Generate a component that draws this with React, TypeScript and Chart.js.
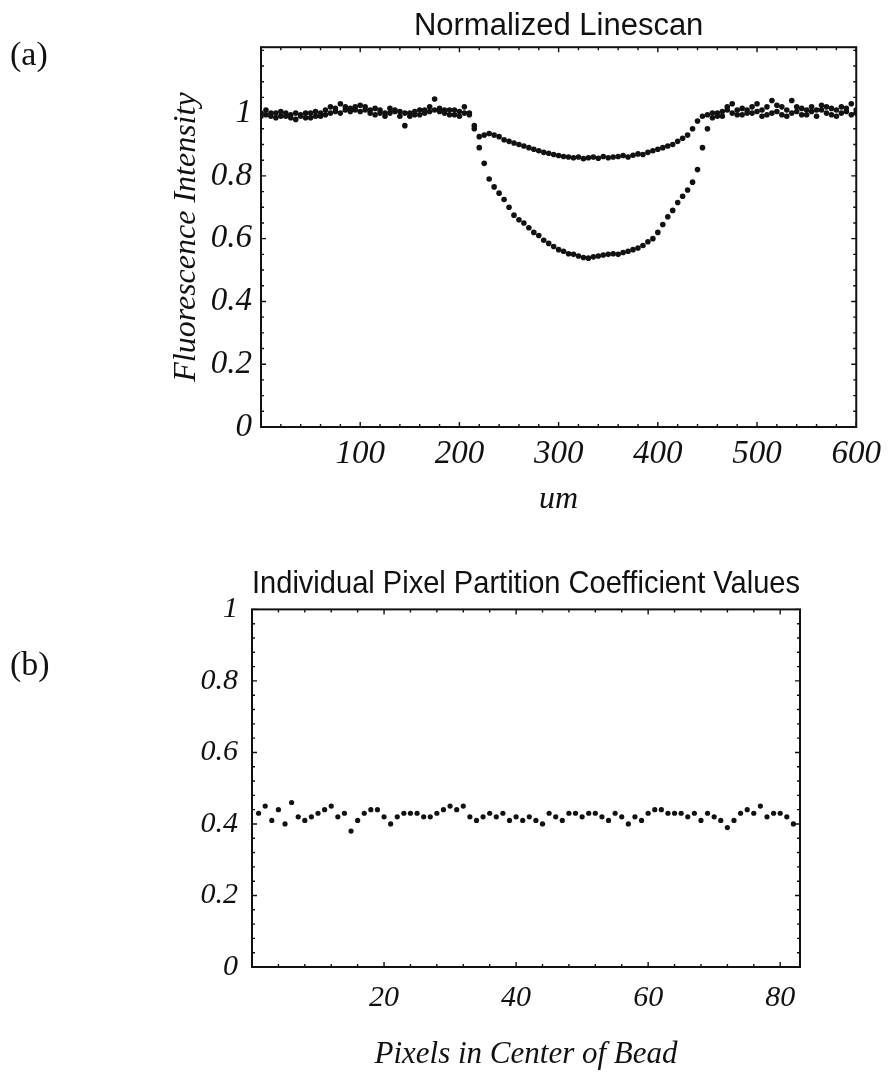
import React, { useEffect, useRef } from "react";
import { Chart, registerables } from "chart.js";

Chart.register(...registerables);

// ---------- (a) Normalized Linescan ----------
const LINESCAN_TITLE = "Normalized Linescan";
const LINESCAN_X_LABEL = "um";
const LINESCAN_Y_LABEL = "Fluorescence Intensity";
const LINESCAN_X = [
  0, 5, 10, 15, 20, 25, 30, 35, 40, 45, 50, 55, 60, 65, 70, 75, 80, 85, 90, 95, 100,
  105, 110, 115, 120, 125, 130, 135, 140, 145, 150, 155, 160, 165, 170, 175, 180, 185, 190, 195, 200,
  205, 210, 215, 220, 225, 230, 235, 240, 245, 250, 255, 260, 265, 270, 275, 280, 285, 290, 295, 300,
  305, 310, 315, 320, 325, 330, 335, 340, 345, 350, 355, 360, 365, 370, 375, 380, 385, 390, 395, 400,
  405, 410, 415, 420, 425, 430, 435, 440, 445, 450, 455, 460, 465, 470, 475, 480, 485, 490, 495, 500,
  505, 510, 515, 520, 525, 530, 535, 540, 545, 550, 555, 560, 565, 570, 575, 580, 585, 590, 595, 600,
];
const LINESCAN_UPPER = [
  1.0, 1.01, 0.99, 1.0, 1.005, 0.99, 0.985, 1.0, 0.99, 1.0, 0.985,
  1.005, 0.99, 1.01, 1.02, 1.005, 1.03, 1.01, 1.015, 1.02, 1.005,
  1.02, 1.01, 0.995, 1.01, 1.0, 1.015, 1.005, 0.99, 0.96, 1.0,
  0.995, 1.01, 1.0, 1.02, 1.045, 1.015, 1.0, 1.01, 0.995, 1.005,
  1.02, 1.0, 0.96, 0.925, 0.93, 0.935, 0.93, 0.925, 0.915, 0.91,
  0.905, 0.9, 0.895, 0.89, 0.885, 0.88, 0.875, 0.872, 0.868, 0.865,
  0.862, 0.86, 0.858, 0.86, 0.855, 0.858, 0.86, 0.856, 0.862, 0.858,
  0.86, 0.862, 0.865, 0.86, 0.866, 0.87, 0.868, 0.875, 0.88, 0.885,
  0.89, 0.895, 0.9, 0.91, 0.92, 0.93, 0.95, 0.975, 0.99, 0.995,
  1.0, 0.99, 1.005, 1.02, 1.0, 1.01, 0.995, 1.01, 1.0, 1.03,
  1.01, 0.995, 1.04, 1.005, 1.02, 0.99, 1.04, 1.005, 1.015, 0.995,
  1.02, 1.01, 1.025, 1.0, 1.015, 0.99, 1.02, 1.005, 1.03, 1.01,
];
const LINESCAN_LOWER = [
  0.99, 0.995, 1.0, 0.985, 0.99, 1.0, 0.995, 0.98, 0.995, 0.985, 1.0,
  0.99, 1.0, 0.995, 1.0, 1.015, 1.0, 1.02, 1.005, 1.01, 1.025,
  1.01, 1.0, 1.015, 1.0, 0.99, 1.0, 1.01, 1.005, 1.0, 0.99,
  1.005, 0.995, 1.01, 1.005, 1.01, 1.005, 1.01, 0.995, 1.01, 0.99,
  1.0, 0.995, 0.95, 0.89, 0.84, 0.79, 0.765, 0.745, 0.725, 0.7,
  0.675, 0.66, 0.65, 0.635, 0.62, 0.61, 0.595, 0.585, 0.575, 0.565,
  0.56, 0.552, 0.55, 0.545, 0.54, 0.538, 0.542, 0.545, 0.548, 0.55,
  0.552, 0.55, 0.556, 0.56, 0.565, 0.57, 0.578, 0.59, 0.6, 0.62,
  0.645, 0.67, 0.69, 0.715, 0.735, 0.755, 0.78, 0.82, 0.89, 0.95,
  0.985, 1.0, 0.99, 1.01, 1.03, 0.995, 1.015, 1.0, 1.02, 1.005,
  0.99, 1.02, 1.0, 1.025, 0.995, 1.01, 1.0, 1.02, 0.995, 1.01,
  1.005, 0.99, 1.01, 1.02, 0.995, 1.01, 1.0, 1.015, 0.995, 1.0,
];
const LINESCAN_X_TICKS = [100, 200, 300, 400, 500, 600];
const LINESCAN_Y_TICKS = [0, 0.2, 0.4, 0.6, 0.8, 1];

// ---------- (b) Individual Pixel Partition Coefficient Values ----------
const PIXEL_TITLE = "Individual Pixel Partition Coefficient Values";
const PIXEL_X_LABEL = "Pixels in Center of Bead";
const PIXEL_INDEX = [
  1, 2, 3, 4, 5, 6, 7, 8, 9, 10, 11, 12, 13, 14, 15, 16, 17, 18, 19, 20,
  21, 22, 23, 24, 25, 26, 27, 28, 29, 30, 31, 32, 33, 34, 35, 36, 37, 38, 39, 40,
  41, 42, 43, 44, 45, 46, 47, 48, 49, 50, 51, 52, 53, 54, 55, 56, 57, 58, 59, 60,
  61, 62, 63, 64, 65, 66, 67, 68, 69, 70, 71, 72, 73, 74, 75, 76, 77, 78, 79, 80,
  81, 82,
];
const PIXEL_VALUES = [
  0.43, 0.45, 0.41, 0.44, 0.4, 0.46, 0.42, 0.41, 0.42, 0.43,
  0.44, 0.45, 0.42, 0.43, 0.38, 0.41, 0.43, 0.44, 0.44, 0.42,
  0.4, 0.42, 0.43, 0.43, 0.43, 0.42, 0.42, 0.43, 0.44, 0.45,
  0.44, 0.45, 0.42, 0.41, 0.42, 0.43, 0.42, 0.43, 0.41, 0.42,
  0.41, 0.42, 0.41, 0.4, 0.43, 0.42, 0.41, 0.43, 0.43, 0.42,
  0.43, 0.43, 0.42, 0.41, 0.43, 0.42, 0.4, 0.42, 0.41, 0.43,
  0.44, 0.44, 0.43, 0.43, 0.43, 0.42, 0.43, 0.41, 0.43, 0.42,
  0.41, 0.39, 0.41, 0.43, 0.44, 0.43, 0.45, 0.42, 0.43, 0.43,
  0.42, 0.4,
];
const PIXEL_X_TICKS = [20, 40, 60, 80];
const PIXEL_Y_TICKS = [0, 0.2, 0.4, 0.6, 0.8, 1];

const INK = "#111111";
const SERIF = '"Liberation Serif", "DejaVu Serif", "Times New Roman", serif';
const SANS = '"Liberation Sans", Arial, Helvetica, sans-serif';

// Frame with inward major/minor ticks on all four sides (positions from the chart's scales)
const frameTicksPlugin = {
  id: "frameTicks",
  afterDatasetsDraw(chart: any, _args: any, opts: any) {
    const { ctx, chartArea } = chart;
    const xs = chart.scales.x;
    const ys = chart.scales.y;
    const { left, right, top, bottom } = chartArea;
    ctx.save();
    ctx.strokeStyle = INK;
    ctx.lineWidth = 1.4;
    ctx.beginPath();
    const vTick = (v: number, len: number) => {
      const p = xs.getPixelForValue(v);
      ctx.moveTo(p, bottom);
      ctx.lineTo(p, bottom - len);
      ctx.moveTo(p, top);
      ctx.lineTo(p, top + len);
    };
    const hTick = (v: number, len: number) => {
      const p = ys.getPixelForValue(v);
      ctx.moveTo(left, p);
      ctx.lineTo(left + len, p);
      ctx.moveTo(right, p);
      ctx.lineTo(right - len, p);
    };
    for (let i = 1; ; i++) {
      const v = xs.min + i * opts.xMinorStep;
      if (v >= xs.max - 1e-9) break;
      vTick(v, opts.minorLen);
    }
    for (let i = 1; ; i++) {
      const v = ys.min + i * opts.yMinorStep;
      if (v >= ys.max - 1e-9) break;
      hTick(v, opts.minorLen);
    }
    opts.xMajor.forEach((v: number) => vTick(v, opts.majorLen));
    opts.yMajor.forEach((v: number) => hTick(v, opts.majorLen));
    ctx.stroke();
    ctx.lineWidth = 2;
    ctx.strokeRect(left, top, right - left, bottom - top);
    ctx.restore();
  },
};

function LinescanChart() {
  const ref = useRef<HTMLCanvasElement | null>(null);
  useEffect(() => {
    if (!ref.current) return;
    const upper = LINESCAN_X.map((x, i) => ({ x, y: LINESCAN_UPPER[i] }));
    const lower = LINESCAN_X.map((x, i) => ({ x, y: LINESCAN_LOWER[i] }));
    const tickFont = { family: SERIF, style: "italic" as const, size: 33 };
    const chart = new Chart(ref.current, {
      type: "scatter",
      data: {
        datasets: [
          { data: upper, pointRadius: 2.8, pointBackgroundColor: INK, pointBorderWidth: 0, showLine: false },
          { data: lower, pointRadius: 2.8, pointBackgroundColor: INK, pointBorderWidth: 0, showLine: false },
        ],
      },
      options: {
        responsive: false,
        animation: false,
        layout: { padding: { left: 150, right: 28, top: 0, bottom: 0 } },
        plugins: {
          legend: { display: false },
          tooltip: { enabled: false },
          title: {
            display: true,
            text: LINESCAN_TITLE,
            fullSize: false,
            color: INK,
            font: { family: SANS, size: 31, weight: "normal" },
            padding: { top: 8, bottom: 2 },
          },
          frameTicks: {
            xMajor: LINESCAN_X_TICKS,
            yMajor: LINESCAN_Y_TICKS,
            xMinorStep: 20,
            yMinorStep: 0.05,
            majorLen: 5,
            minorLen: 3,
          },
        } as any,
        scales: {
          x: {
            type: "linear",
            min: 0,
            max: 600,
            grid: { display: false, drawTicks: false },
            border: { display: false },
            ticks: {
              color: INK,
              font: tickFont,
              padding: 8,
              autoSkip: false,
              maxRotation: 0,
              callback: (v: any) => String(v),
            },
            afterBuildTicks: (s: any) => {
              s.ticks = LINESCAN_X_TICKS.map((v) => ({ value: v }));
            },
            afterFit: (s: any) => {
              s.height = 103;
            },
            title: {
              display: true,
              text: LINESCAN_X_LABEL,
              color: INK,
              font: { family: SERIF, style: "italic", size: 32 },
              padding: { top: 0, bottom: 11 },
            },
          },
          y: {
            type: "linear",
            min: 0,
            max: 1.21,
            grid: { display: false, drawTicks: false },
            border: { display: false },
            ticks: {
              color: INK,
              font: tickFont,
              padding: 9,
              autoSkip: false,
              callback: (v: any) => String(v),
            },
            afterBuildTicks: (s: any) => {
              s.ticks = LINESCAN_Y_TICKS.map((v) => ({ value: v }));
            },
            afterFit: (s: any) => {
              s.width = 111;
            },
            title: {
              display: true,
              text: LINESCAN_Y_LABEL,
              color: INK,
              font: { family: SERIF, style: "italic", size: 32 },
              padding: { top: 17, bottom: 0 },
            },
          },
        },
      },
      plugins: [frameTicksPlugin],
    });
    return () => chart.destroy();
  }, []);
  return <canvas ref={ref} width={889} height={530} style={{ display: "block" }} />;
}

function PixelChart() {
  const ref = useRef<HTMLCanvasElement | null>(null);
  useEffect(() => {
    if (!ref.current) return;
    const pts = PIXEL_INDEX.map((x, i) => ({ x, y: PIXEL_VALUES[i] }));
    const tickFont = { family: SERIF, style: "italic" as const, size: 30 };
    const chart = new Chart(ref.current, {
      type: "scatter",
      data: {
        datasets: [
          { data: pts, pointRadius: 2.6, pointBackgroundColor: INK, pointBorderWidth: 0, showLine: false },
        ],
      },
      options: {
        responsive: false,
        animation: false,
        layout: { padding: { left: 0, right: 89, top: 0, bottom: 0 } },
        plugins: {
          legend: { display: false },
          tooltip: { enabled: false },
          title: {
            display: true,
            text: PIXEL_TITLE,
            fullSize: false,
            color: INK,
            font: { family: SANS, size: 32, weight: "normal" },
            padding: { top: 35, bottom: 6 },
          },
          frameTicks: {
            xMajor: PIXEL_X_TICKS,
            yMajor: PIXEL_Y_TICKS,
            xMinorStep: 4,
            yMinorStep: 0.04,
            majorLen: 5,
            minorLen: 3,
          },
        } as any,
        scales: {
          x: {
            type: "linear",
            min: 0,
            max: 83,
            grid: { display: false, drawTicks: false },
            border: { display: false },
            ticks: {
              color: INK,
              font: tickFont,
              padding: 13,
              autoSkip: false,
              maxRotation: 0,
              callback: (v: any) => String(v),
            },
            afterBuildTicks: (s: any) => {
              s.ticks = PIXEL_X_TICKS.map((v) => ({ value: v }));
            },
            afterFit: (s: any) => {
              s.height = 107;
            },
            title: {
              display: true,
              text: PIXEL_X_LABEL,
              color: INK,
              font: { family: SERIF, style: "italic", size: 31 },
              padding: { top: 0, bottom: 1 },
            },
          },
          y: {
            type: "linear",
            min: 0,
            max: 1,
            grid: { display: false, drawTicks: false },
            border: { display: false },
            ticks: {
              color: INK,
              font: tickFont,
              padding: 14,
              autoSkip: false,
              callback: (v: any) => String(v),
            },
            afterBuildTicks: (s: any) => {
              s.ticks = PIXEL_Y_TICKS.map((v) => ({ value: v }));
            },
            afterFit: (s: any) => {
              s.width = 252;
            },
          },
        },
      },
      plugins: [frameTicksPlugin],
    });
    return () => chart.destroy();
  }, []);
  return <canvas ref={ref} width={889} height={544} style={{ display: "block" }} />;
}

const panelLabel: React.CSSProperties = {
  position: "absolute",
  left: 10,
  fontFamily: SERIF,
  fontSize: 34,
  lineHeight: 1,
  color: INK,
};

export default function App() {
  return (
    <div style={{ position: "absolute", left: 0, top: 0, width: 889, height: 1074, background: "#fff", overflow: "hidden" }}>
      <div style={{ position: "absolute", left: 0, top: 0 }}>
        <LinescanChart />
      </div>
      <div style={{ position: "absolute", left: 0, top: 530 }}>
        <PixelChart />
      </div>
      <div style={{ ...panelLabel, top: 37 }}>(a)</div>
      <div style={{ ...panelLabel, top: 647 }}>(b)</div>
    </div>
  );
}
